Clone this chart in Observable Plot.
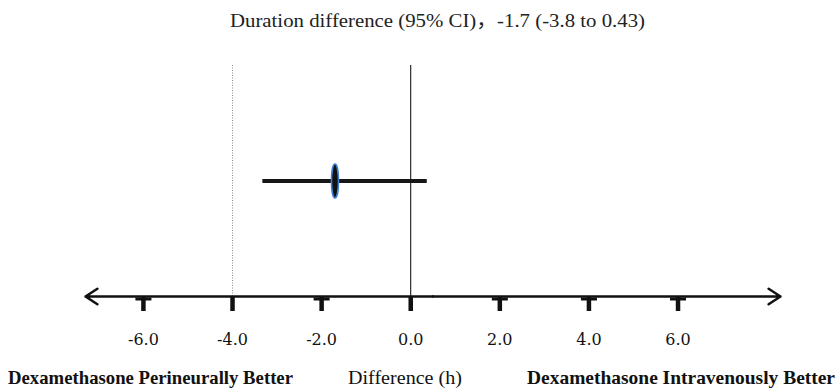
<!DOCTYPE html>
<html>
<head>
<meta charset="utf-8">
<script src="https://cdn.jsdelivr.net/npm/d3@7"></script>
<script src="https://cdn.jsdelivr.net/npm/@observablehq/plot@0.6"></script>
<style>
  html, body { margin: 0; padding: 0; background: #fff; }
  #fig { position: relative; width: 839px; height: 389px; overflow: hidden; }
  .lbl { position: absolute; white-space: nowrap; line-height: 1; transform-origin: left center; color: #111; }
  #title { font-family: "Liberation Serif", "Noto Sans CJK SC", serif; font-size: 19px; color: #222; }
  .bottom { font-family: "Liberation Serif", serif; font-size: 19px; }
  .bold { font-weight: bold; }
  #chart { position: absolute; left: 0; top: 40px; }
</style>
</head>
<body>
<div id="fig">
  <div id="title" class="lbl"></div>
  <div id="chart"></div>
  <div id="lb1" class="lbl bottom bold"></div>
  <div id="lb2" class="lbl bottom"></div>
  <div id="lb3" class="lbl bottom bold"></div>
</div>
<script>
// ---- data ----
const titleText = "Duration difference (95% CI)，-1.7 (-3.8 to 0.43)";
const leftLabel = "Dexamethasone Perineurally Better";
const centerLabel = "Difference (h)";
const rightLabel = "Dexamethasone Intravenously Better";
const xDomain = [-7.3, 8.3];
const tickValues = [-6, -4, -2, 0, 2, 4, 6];
const crossbarTicks = [-6, -2, 2, 4, 6];
const dottedRef = [-4];
const solidRef = [0];
const estimates = [{est: -1.7, lo: -3.33, hi: 0.36}];

// ---- layout ----
const W = 839, H = 315, mTop = 25, mBottom = 59;
const plotH = H - mTop - mBottom;
const px = p => -p / plotH; // pixels below the axis, in y units

const ellipseSymbol = {
  draw(ctx) {
    const rx = 3.5, ry = 17, k = 0.5523;
    ctx.moveTo(0, -ry);
    ctx.bezierCurveTo(k * rx, -ry, rx, -k * ry, rx, 0);
    ctx.bezierCurveTo(rx, k * ry, k * rx, ry, 0, ry);
    ctx.bezierCurveTo(-k * rx, ry, -rx, k * ry, -rx, 0);
    ctx.bezierCurveTo(-rx, -k * ry, -k * rx, -ry, 0, -ry);
    ctx.closePath();
  }
};

const mid = (xDomain[0] + xDomain[1]) / 2;
const arrows = [{x1: mid, x2: xDomain[0]}, {x1: mid, x2: xDomain[1]}];

const chart = Plot.plot({
  width: W, height: H,
  marginLeft: 85, marginRight: 59, marginTop: mTop, marginBottom: mBottom,
  x: {domain: xDomain},
  y: {domain: [0, 1], axis: null},
  marks: [
    Plot.ruleX(dottedRef, {y1: 0, y2: 1, stroke: "#8a8a8a", strokeWidth: 1, strokeDasharray: "1,1.5"}),
    Plot.ruleX(solidRef, {y1: 0, y2: 1, stroke: "#000", strokeWidth: 1}),
    Plot.link(estimates, {x1: "lo", x2: "hi", y1: 0.5, y2: 0.5, stroke: "#161616", strokeWidth: 4}),
    Plot.dot(estimates, {x: "est", y: 0.5, symbol: ellipseSymbol, fill: "#111", stroke: "#3f80d8", strokeWidth: 1.5}),
    Plot.arrow(arrows, {x1: "x1", x2: "x2", y1: 0, y2: 0, stroke: "#111", strokeWidth: 2.5, headLength: 8.5, headAngle: 66}),
    Plot.ruleX(tickValues, {y1: 0, y2: px(15), stroke: "#111", strokeWidth: 4.5}),
    Plot.link(crossbarTicks, {x1: d => d - 0.18, x2: d => d + 0.18, y1: px(2.5), y2: px(2.5), stroke: "#111", strokeWidth: 3}),
    Plot.axisX(tickValues, {tickFormat: d => d.toFixed(1), tickSize: 0, tickPadding: 37, fontSize: 16, fontFamily: "DejaVu Serif", fill: "#111"})
  ]
});
document.getElementById("chart").appendChild(chart);

// ---- text placement ----
function place(id, text, left, right, centerY) {
  const el = document.getElementById(id);
  el.textContent = text;
  const r = el.getBoundingClientRect();
  el.style.left = left + "px";
  el.style.top = (centerY - r.height / 2) + "px";
  el.style.transform = `scaleX(${(right - left) / r.width})`;
}
place("title", titleText, 230, 645, 20);
place("lb1", leftLabel, 8, 293, 377);
place("lb2", centerLabel, 348, 462, 377);
place("lb3", rightLabel, 527, 835, 377);
</script>
</body>
</html>
